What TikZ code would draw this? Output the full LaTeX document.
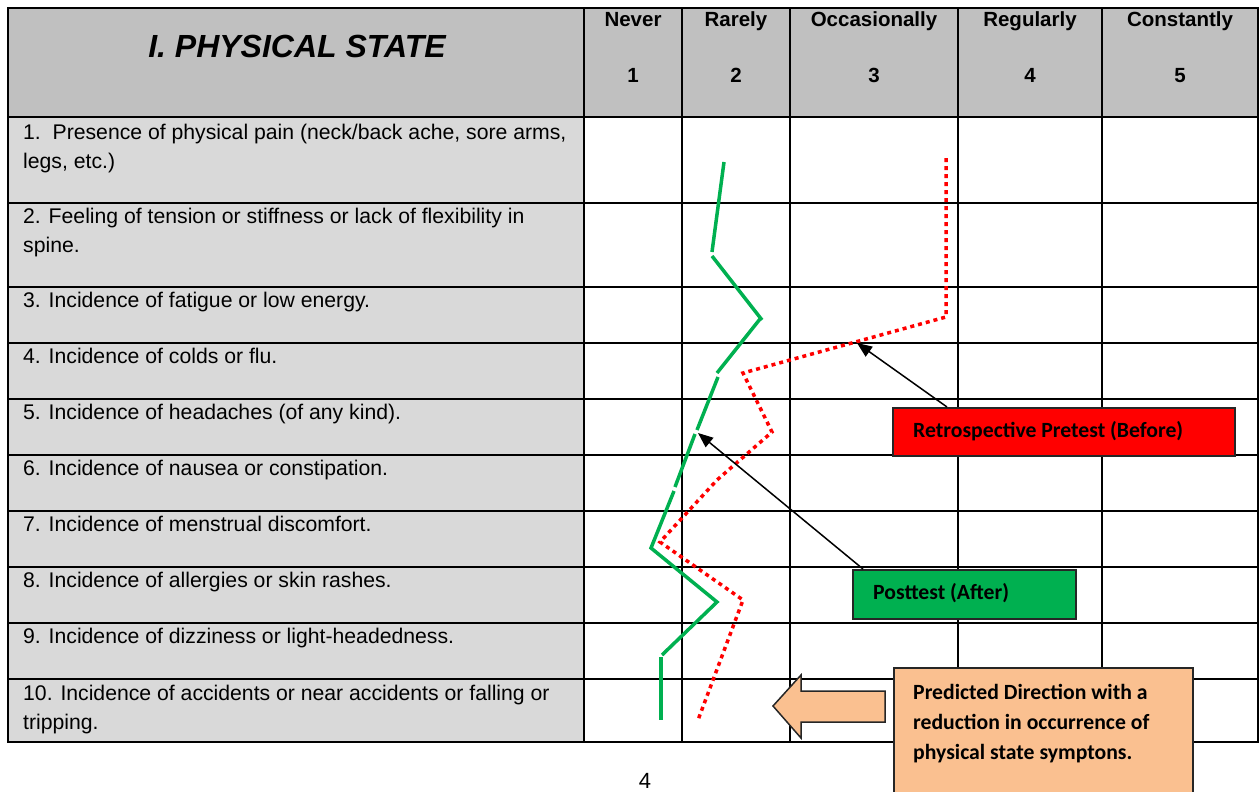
\documentclass[tikz,border=0pt]{standalone}
\usepackage{fontspec}
\setmainfont{Liberation Sans}
\newfontfamily\calib{Carlito}
\usetikzlibrary{arrows.meta}
\definecolor{hdrgray}{HTML}{C0C0C0}
\definecolor{lblgray}{HTML}{D9D9D9}
\definecolor{grn}{HTML}{00B050}
\definecolor{peach}{HTML}{FAC090}
\definecolor{boxedge}{HTML}{262626}
\tikzset{
  gridline/.style={line width=2pt, black},
  outerline/.style={line width=2.5pt, black},
  rowtxt/.style={anchor=north west, align=left, inner sep=0pt, font=\fontsize{21.2}{28.5}\selectfont},
  coltxt/.style={anchor=base, inner sep=0pt, font=\bfseries\fontsize{20.5}{24}\selectfont},
  titletxt/.style={anchor=base, inner sep=0pt, font=\bfseries\itshape\fontsize{32}{36}\selectfont},
  boxtxt/.style={inner sep=0pt, align=left, font=\calib\bfseries\fontsize{21.7}{30}\selectfont},
  labelbox/.style={draw=boxedge, line width=1.5pt, anchor=north west, inner sep=0pt},
  postline/.style={line width=3.5pt, grn},
  preline/.style={line width=3.5pt, red, dash pattern=on 4pt off 4pt},
  pointer/.style={line width=1.5pt, black, -{Triangle[length=15pt, width=12pt]}},
  blockarrow/.style={draw=boxedge, line width=1.5pt, fill=peach, line join=miter}
}
\begin{document}
\begin{tikzpicture}[x=1pt,y=-1pt]
\useasboundingbox (0,0) rectangle (1259,792);
\clip (0,0) rectangle (1259,792);
% table fills
\fill[hdrgray] (8,8) rectangle (1258,117);
\fill[lblgray] (8,117) rectangle (584,742);
% grid
\foreach \y in {117,203,287,343,399,455,511,567,623,679}
  \draw[gridline] (8,\y) -- (1258,\y);
\foreach \x in {584,682,790,958,1102}
  \draw[gridline] (\x,8) -- (\x,742);
\draw[outerline] (8,8) rectangle (1258,742);
% header
\node[titletxt] (title) at (297,58) {I. PHYSICAL STATE};
\node[coltxt] (c1) at (633,27) {Never};
\node[coltxt] (c2) at (736,27) {Rarely};
\node[coltxt] (c3) at (874,27) {Occasionally};
\node[coltxt] (c4) at (1030,27) {Regularly};
\node[coltxt] (c5) at (1180,27) {Constantly};
\node[coltxt] (n1) at (633,82) {1};
\node[coltxt] (n2) at (736,82) {2};
\node[coltxt] (n3) at (874,82) {3};
\node[coltxt] (n4) at (1030,82) {4};
\node[coltxt] (n5) at (1180,82) {5};
% row labels
\node[rowtxt] (r1) at (23,124) {1.\ \ Presence of physical pain (neck/back ache, sore arms,\\legs, etc.)};
\node[rowtxt] (r2) at (23,208) {2. Feeling of tension or stiffness or lack of flexibility in\\spine.};
\node[rowtxt] (r3) at (23,292) {3. Incidence of fatigue or low energy.};
\node[rowtxt] (r4) at (23,348) {4. Incidence of colds or flu.};
\node[rowtxt] (r5) at (23,404) {5. Incidence of headaches (of any kind).};
\node[rowtxt] (r6) at (23,460) {6. Incidence of nausea or constipation.};
\node[rowtxt] (r7) at (23,516) {7. Incidence of menstrual discomfort.};
\node[rowtxt] (r8) at (23,572) {8. Incidence of allergies or skin rashes.};
\node[rowtxt] (r9) at (23,628) {9. Incidence of dizziness or light-headedness.};
\node[rowtxt] (r10) at (23,685) {10. Incidence of accidents or near accidents or falling or\\tripping.};
% pretest (red dotted)
\draw[preline] (946,158) -- (946,317) -- (743,373) -- (772,432) -- (717,480) -- (660,542) -- (743,600) -- (698,720);
% posttest (green)
\draw[postline] (724,162) -- (712,252);
\draw[postline] (712,256) -- (762,320);
\draw[postline] (760,319) -- (717,373);
\draw[postline] (718,377) -- (697,430);
\draw[postline] (695,434) -- (675,487);
\draw[postline] (674,491) -- (651,548) -- (717,602) -- (662,655);
\draw[postline] (661,657) -- (661,720);
% footer page number
\node[anchor=base, inner sep=0pt, font=\fontsize{22}{24}\selectfont] (page) at (645,788) {4};
% labels
\node[labelbox, fill=red, minimum width=342pt, minimum height=48pt] (rbox) at (892,407) {};
\node[boxtxt, anchor=west] (rtxt) at (913,431) {Retrospective Pretest (Before)};
\node[labelbox, fill=grn, minimum width=223pt, minimum height=49pt] (gbox) at (852,569) {};
\node[boxtxt, anchor=west] (gtxt) at (873,593) {Posttest (After)};
\coordinate (t1) at (857,343);
\coordinate (t2) at (698,433);
\draw[pointer] ([xshift=55pt]rbox.north west) -- (t1);
\draw[pointer] ([xshift=11pt]gbox.north west) -- (t2);
% predicted direction
\draw[blockarrow] (773,706) -- (801,675) -- (801,691) -- (885,691) -- (885,722) -- (801,722) -- (801,738) -- cycle;
\node[labelbox, fill=peach, minimum width=299pt, minimum height=150pt] (pbox) at (893,667) {};
\node[boxtxt, anchor=north west] (ptxt) at (913,684) {Predicted Direction with a\\reduction in occurrence of\\physical state symptons.};
\end{tikzpicture}
\end{document}
